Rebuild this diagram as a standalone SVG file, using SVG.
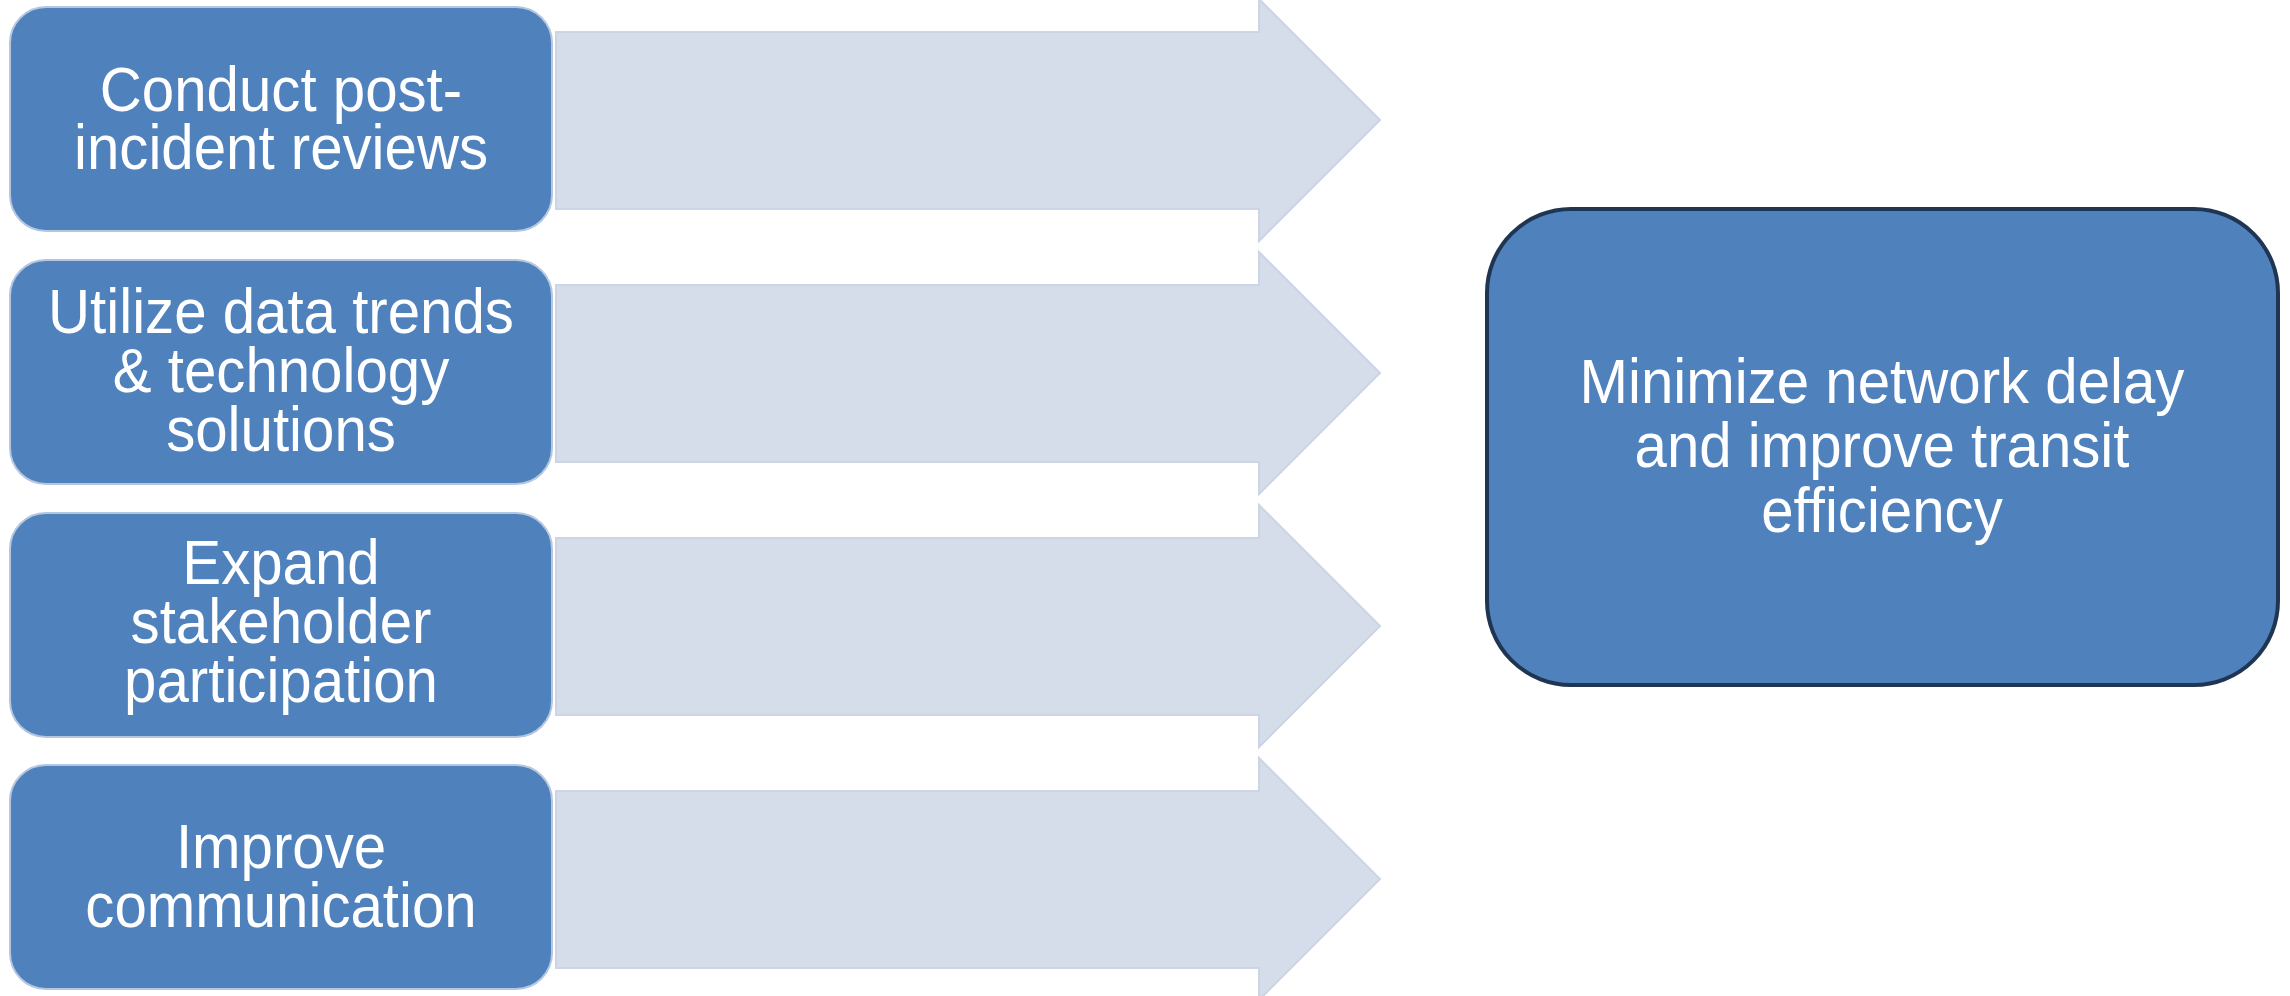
<svg xmlns="http://www.w3.org/2000/svg" width="2290" height="996" viewBox="0 0 2290 996">
<style>
.arrow{fill:#D5DCEA;stroke:#CCD4E5;stroke-width:2}
.box{fill:#4F81BD;stroke:#B4C6E0;stroke-width:2}
.goal{fill:#4F81BD;stroke:#1F3552;stroke-width:4}
.t{font-family:"Liberation Sans",Arial,sans-serif;font-size:63px;fill:#FFFFFF;text-anchor:middle}
</style>
<rect width="2290" height="996" fill="#FFFFFF"/>
<g id="connectors">
<polygon class="arrow" points="556,32 1259,32 1259,-1 1380,120 1259,241 1259,209 556,209"/>
<polygon class="arrow" points="556,285 1259,285 1259,252 1380,373 1259,494 1259,462 556,462"/>
<polygon class="arrow" points="556,538 1259,538 1259,505 1380,626 1259,747 1259,715 556,715"/>
<polygon class="arrow" points="556,791 1259,791 1259,758 1380,879 1259,1000 1259,968 556,968"/>
</g>
<g id="node1">
<rect class="box" x="10" y="7" width="542" height="224" rx="36"/>
<g transform="translate(281,0) scale(0.924,1)">
<text class="t" x="0" y="111">Conduct post-</text>
<text class="t" x="0" y="169">incident reviews</text>
</g>
</g>
<g id="node2">
<rect class="box" x="10" y="260" width="542" height="224" rx="36"/>
<g transform="translate(281,0) scale(0.924,1)">
<text class="t" x="0" y="333">Utilize data trends</text>
<text class="t" x="0" y="392">&amp; technology</text>
<text class="t" x="0" y="451">solutions</text>
</g>
</g>
<g id="node3">
<rect class="box" x="10" y="513" width="542" height="224" rx="36"/>
<g transform="translate(281,0) scale(0.924,1)">
<text class="t" x="0" y="584">Expand</text>
<text class="t" x="0" y="643">stakeholder</text>
<text class="t" x="0" y="702">participation</text>
</g>
</g>
<g id="node4">
<rect class="box" x="10" y="765" width="542" height="224" rx="36"/>
<g transform="translate(281,0) scale(0.924,1)">
<text class="t" x="0" y="868">Improve</text>
<text class="t" x="0" y="927">communication</text>
</g>
</g>
<g id="goal">
<rect class="goal" x="1487" y="209" width="791" height="476" rx="84"/>
<g transform="translate(1882,0) scale(0.924,1)">
<text class="t" x="0" y="403">Minimize network delay</text>
<text class="t" x="0" y="467">and improve transit</text>
<text class="t" x="0" y="532">efficiency</text>
</g>
</g>
</svg>
